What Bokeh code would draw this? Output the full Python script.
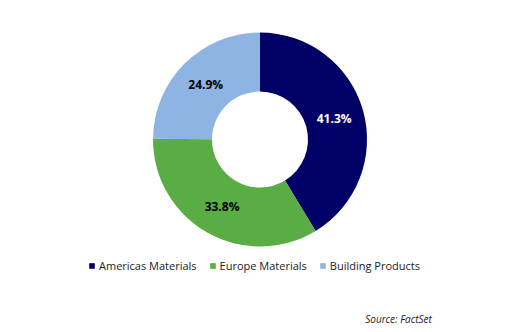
import math
from bokeh.plotting import figure
from bokeh.models import Range1d, ColumnDataSource, Legend, LegendItem, Label
from bokeh.embed import file_html
from bokeh.resources import INLINE
from bokeh.core.properties import value

categories = ["Americas Materials", "Europe Materials", "Building Products"]
shares = [41.3, 33.8, 24.9]
labels = ["41.3%", "33.8%", "24.9%"]
colors = ["#000066", "#5aad44", "#8eb4e3"]
label_colors = ["white", "black", "black"]
source_text = "Source: FactSet"

W, H = 520, 332
cx, cy = 259.5, H - 139
r_out, r_in = 107, 48

total = sum(shares)
starts, ends, mids = [], [], []
a = math.pi / 2
for s in shares:
    span = s / total * 2 * math.pi
    starts.append(a)
    ends.append(a - span)
    mids.append(a - span / 2)
    a -= span

lx = [cx + 77 * math.cos(m) for m in mids]
ly = [cy + 77 * math.sin(m) for m in mids]

src = ColumnDataSource(dict(cat=categories, start=starts, end=ends, color=colors,
                            lab=labels, lc=label_colors, lx=lx, ly=ly))

p = figure(width=W, height=H, x_range=Range1d(0, W), y_range=Range1d(0, H),
           output_backend="svg", toolbar_location=None, min_border=0)
p.axis.visible = False
p.grid.visible = False
p.outline_line_color = None
p.background_fill_color = "white"

renderers = []
for i in range(len(categories)):
    rr = p.annular_wedge(x=cx, y=cy, inner_radius=r_in, outer_radius=r_out,
                         start_angle=starts[i], end_angle=ends[i], direction="clock",
                         fill_color=colors[i], line_color=None,
                         inner_radius_units="screen", outer_radius_units="screen")
    renderers.append(rr)

p.text(x="lx", y="ly", text="lab", source=src, text_color="lc",
       text_font=value("Open Sans"), text_font_style="bold", text_font_size="12px",
       text_align="center", text_baseline="middle")

legend = Legend(items=[LegendItem(label=c, renderers=[r]) for c, r in zip(categories, renderers)],
                orientation="horizontal", location=(88, 59),
                glyph_width=7, glyph_height=7, label_standoff=4, spacing=12,
                label_text_font="Open Sans", label_text_font_size="11px",
                label_text_color="#222222", label_height=14, label_width=10,
                padding=0, margin=0, border_line_color=None, background_fill_alpha=0)
p.add_layout(legend, "center")

p.add_layout(Label(x=398, y=H - 318, text=source_text, text_font="Open Sans",
                   text_font_style="italic", text_font_size="10px", text_color="#222222",
                   text_align="center", text_baseline="middle"))

open("out.html", "w").write(file_html(p, INLINE))
